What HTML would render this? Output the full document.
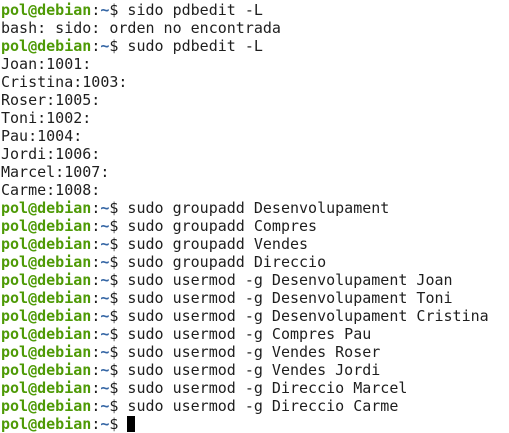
<!DOCTYPE html>
<html><head><style>
body{margin:0;background:#fff;}
pre{margin:0;padding:0 0 0 1px;font-family:"DejaVu Sans Mono",monospace;font-size:15px;line-height:18px;color:#1e1e1e;position:absolute;top:1px;left:0;}
.g{color:#4e9a06;font-weight:bold}
.b{color:#3465a4;font-weight:bold}
.c{display:inline-block;width:8px;height:16px;background:#000;vertical-align:-3px}
</style></head><body><pre><span class="g">pol@debian</span>:<span class="b">~</span>$ sido pdbedit -L
bash: sido: orden no encontrada
<span class="g">pol@debian</span>:<span class="b">~</span>$ sudo pdbedit -L
Joan:1001:
Cristina:1003:
Roser:1005:
Toni:1002:
Pau:1004:
Jordi:1006:
Marcel:1007:
Carme:1008:
<span class="g">pol@debian</span>:<span class="b">~</span>$ sudo groupadd Desenvolupament
<span class="g">pol@debian</span>:<span class="b">~</span>$ sudo groupadd Compres
<span class="g">pol@debian</span>:<span class="b">~</span>$ sudo groupadd Vendes
<span class="g">pol@debian</span>:<span class="b">~</span>$ sudo groupadd Direccio
<span class="g">pol@debian</span>:<span class="b">~</span>$ sudo usermod -g Desenvolupament Joan
<span class="g">pol@debian</span>:<span class="b">~</span>$ sudo usermod -g Desenvolupament Toni
<span class="g">pol@debian</span>:<span class="b">~</span>$ sudo usermod -g Desenvolupament Cristina
<span class="g">pol@debian</span>:<span class="b">~</span>$ sudo usermod -g Compres Pau
<span class="g">pol@debian</span>:<span class="b">~</span>$ sudo usermod -g Vendes Roser
<span class="g">pol@debian</span>:<span class="b">~</span>$ sudo usermod -g Vendes Jordi
<span class="g">pol@debian</span>:<span class="b">~</span>$ sudo usermod -g Direccio Marcel
<span class="g">pol@debian</span>:<span class="b">~</span>$ sudo usermod -g Direccio Carme
<span class="g">pol@debian</span>:<span class="b">~</span>$ <span class="c"></span></pre></body></html>
